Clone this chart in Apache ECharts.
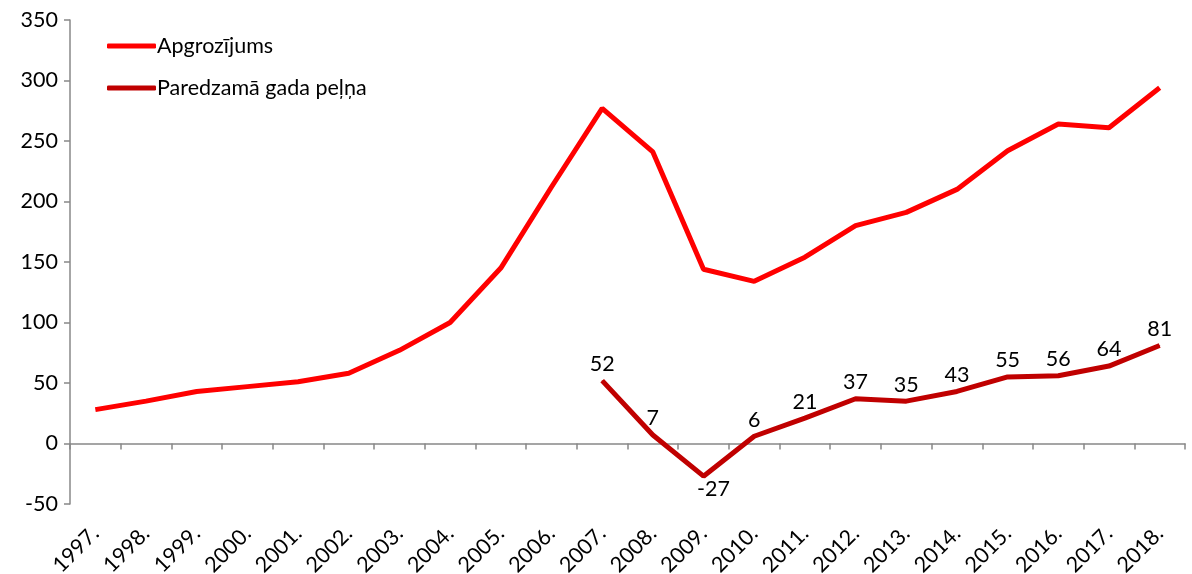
<!DOCTYPE html>
<html>
<head>
<meta charset="utf-8">
<script src="https://cdn.jsdelivr.net/npm/echarts@6/dist/echarts.min.js"></script>
<style>html,body{margin:0;padding:0;background:#fff;}#c{width:1192px;height:574px;}</style>
</head>
<body>
<div id="c"></div>
<script>
const years = ['1997.','1998.','1999.','2000.','2001.','2002.','2003.','2004.','2005.','2006.','2007.','2008.','2009.','2010.','2011.','2012.','2013.','2014.','2015.','2016.','2017.','2018.'];
const apgrozijums = [28, 35, 43, 47, 51, 58, 77, 100, 145, 212, 277, 241, 144, 134, 154, 180, 191, 210, 242, 264, 261, 294];
const pelna = [null, null, null, null, null, null, null, null, null, null, 52, 7, -27, 6, 21, 37, 35, 43, 55, 56, 64, 81];
const seriesNames = ['Apgrozījums', 'Paredzamā gada peļņa'];

const FONT = 'Lato, "Open Sans", sans-serif';
const FS = 21.5;
const chart = echarts.init(document.getElementById('c'));
chart.setOption({
  animation: false,
  backgroundColor: '#ffffff',
  textStyle: { fontFamily: FONT, color: '#000' },
  grid: { left: 70, right: 7, top: 20, bottom: 70, containLabel: false, outerBoundsMode: 'none' },
  legend: {
    orient: 'vertical', left: 102, top: 30, itemGap: 20,
    itemWidth: 49, itemHeight: 5, icon: 'roundRect',
    textStyle: { fontFamily: FONT, fontSize: FS, color: '#000', padding: [0,0,0,-4] },
    data: seriesNames
  },
  xAxis: {
    type: 'category', data: years, boundaryGap: true,
    axisLine: { onZero: true, lineStyle: { color: '#888', width: 1.5 } },
    axisTick: { show: true, interval: 0, length: 6, lineStyle: { color: '#888', width: 1.5 } },
    axisLabel: { interval: 0, rotate: 45, margin: 26, fontSize: FS, fontFamily: FONT, color: '#000' },
    splitLine: { show: false }
  },
  yAxis: {
    type: 'value', min: -50, max: 350, interval: 50,
    axisLine: { show: true, lineStyle: { color: '#888', width: 1.5 } },
    axisTick: { show: true, length: 6, lineStyle: { color: '#888', width: 1.5 } },
    axisLabel: { margin: 12, fontSize: FS, fontFamily: FONT, color: '#000' },
    splitLine: { show: false }
  },
  series: [
    {
      name: seriesNames[0], type: 'line', data: apgrozijums, symbol: 'none',
      lineStyle: { color: '#ff0000', width: 5 }, itemStyle: { color: '#ff0000' }
    },
    {
      name: seriesNames[1], type: 'line', symbol: 'circle', symbolSize: 1, showSymbol: true,
      data: pelna.map(v => v === null ? null : (v < 0 ? { value: v, label: { position: 'bottom', distance: 1, offset: [10, 0] } } : v)),
      lineStyle: { color: '#c00000', width: 5 }, itemStyle: { color: '#c00000' },
      label: { show: true, position: 'top', distance: 5, fontSize: FS, fontFamily: FONT, color: '#000' }
    }
  ]
});
</script>
</body>
</html>
